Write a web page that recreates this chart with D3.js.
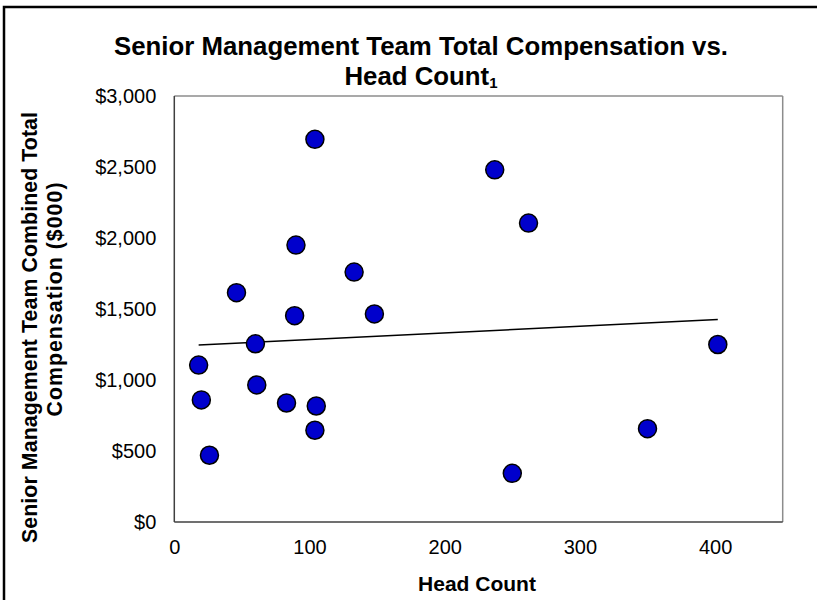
<!DOCTYPE html>
<html>
<head>
<meta charset="utf-8">
<script src="https://cdn.jsdelivr.net/npm/d3@7"></script>
<style>
  body { margin: 0; background: #fff; }
  svg { display: block; font-family: "Liberation Sans", Arial, sans-serif; }
</style>
</head>
<body>
<svg id="chart"></svg>
<script>
// head count vs combined total compensation ($000)
var headCount = [104, 237, 90, 133, 46, 89, 148, 60, 18, 61, 20, 83, 105, 104, 26, 262, 402, 350, 250];
var compensation = [2695, 2480, 1950, 1760, 1615, 1453, 1465, 1255, 1105, 965, 860, 838, 817, 646, 470, 2105, 1250, 657, 343];
var xTicks = [0, 100, 200, 300, 400];
var yTicks = [0, 500, 1000, 1500, 2000, 2500, 3000];

var W = 817, H = 600;
var plotL = 174.3, plotR = 782.7, plotT = 96, plotB = 522;

var svg = d3.select("#chart").attr("width", W).attr("height", H);

// outer chart border (runs off the right and bottom edge)
svg.append("rect")
    .attr("x", 4).attr("y", 7)
    .attr("width", 900).attr("height", 800)
    .attr("fill", "none")
    .attr("stroke", "#000")
    .attr("stroke-width", 2.5);

var x = d3.scaleLinear().domain([0, 450]).range([plotL, plotR]);
var y = d3.scaleLinear().domain([0, 3000]).range([plotB, plotT]);

/** plot frame **/
svg.append("line")
    .attr("x1", plotL).attr("x2", plotR).attr("y1", plotT).attr("y2", plotT)
    .attr("stroke", "#8c8c8c").attr("stroke-width", 1.5);
svg.append("line")
    .attr("x1", plotR).attr("x2", plotR).attr("y1", plotT).attr("y2", plotB)
    .attr("stroke", "#8c8c8c").attr("stroke-width", 1.5);
svg.append("line")
    .attr("x1", plotL).attr("x2", plotL).attr("y1", plotT).attr("y2", plotB)
    .attr("stroke", "#404040").attr("stroke-width", 1.5);
svg.append("line")
    .attr("x1", plotL).attr("x2", plotR).attr("y1", plotB).attr("y2", plotB)
    .attr("stroke", "#404040").attr("stroke-width", 1.5);

/** axes **/
var xAxis = d3.axisBottom(x).tickValues(xTicks).tickSize(0).tickPadding(18);
var yAxis = d3.axisLeft(y).tickValues(yTicks).tickSize(0).tickPadding(18)
    .tickFormat(function(d) { return "$" + d3.format(",")(d); });

var gx = svg.append("g")
    .attr("transform", "translate(0," + plotB + ")")
    .call(xAxis);
var gy = svg.append("g")
    .attr("transform", "translate(" + plotL + ",0)")
    .call(yAxis);

[gx, gy].forEach(function(g) {
  g.select(".domain").remove();
  g.selectAll("text")
    .attr("fill", "#000")
    .style("font-family", '"Liberation Sans", Arial, sans-serif')
    .style("font-size", "20px");
});

/** trend line (least squares) **/
var n = headCount.length;
var mx = d3.mean(headCount), my = d3.mean(compensation);
var sxy = 0, sxx = 0;
for (var i = 0; i < n; i++) {
  sxy += (headCount[i] - mx) * (compensation[i] - my);
  sxx += (headCount[i] - mx) * (headCount[i] - mx);
}
var slope = sxy / sxx, intercept = my - slope * mx;
var xMin = d3.min(headCount), xMax = d3.max(headCount);

svg.append("line")
    .attr("x1", x(xMin)).attr("y1", y(intercept + slope * xMin))
    .attr("x2", x(xMax)).attr("y2", y(intercept + slope * xMax))
    .attr("stroke", "#000")
    .attr("stroke-width", 1.5);

/** points **/
var points = headCount.map(function(h, i) { return {x: h, y: compensation[i]}; });
svg.selectAll("circle.dot")
    .data(points)
    .enter()
    .append("circle")
    .attr("class", "dot")
    .attr("cx", function(d) { return x(d.x); })
    .attr("cy", function(d) { return y(d.y); })
    .attr("r", 9)
    .attr("fill", "#0000cc")
    .attr("stroke", "#000")
    .attr("stroke-width", 1.5);

/** titles **/
svg.append("text")
    .attr("x", 421).attr("y", 55)
    .attr("text-anchor", "middle")
    .style("font-size", "25.8px").style("font-weight", "bold")
    .text("Senior Management Team Total Compensation vs.");

var t2 = svg.append("text")
    .attr("x", 421).attr("y", 85)
    .attr("text-anchor", "middle")
    .style("font-size", "25.8px").style("font-weight", "bold");
t2.append("tspan").text("Head Count");
t2.append("tspan").attr("dy", 3).style("font-size", "15px").text("1");

svg.append("text")
    .attr("x", 477).attr("y", 591)
    .attr("text-anchor", "middle")
    .style("font-size", "21px").style("font-weight", "bold")
    .text("Head Count");

svg.append("text")
    .attr("transform", "translate(37,327.5) rotate(-90)")
    .attr("text-anchor", "middle")
    .attr("textLength", 431)
    .attr("lengthAdjust", "spacing")
    .style("font-size", "21.3px").style("font-weight", "bold")
    .text("Senior Management Team Combined Total");

svg.append("text")
    .attr("transform", "translate(62,299.5) rotate(-90)")
    .attr("text-anchor", "middle")
    .attr("textLength", 234)
    .attr("lengthAdjust", "spacing")
    .style("font-size", "21.3px").style("font-weight", "bold")
    .text("Compensation ($000)");
</script>
</body>
</html>
